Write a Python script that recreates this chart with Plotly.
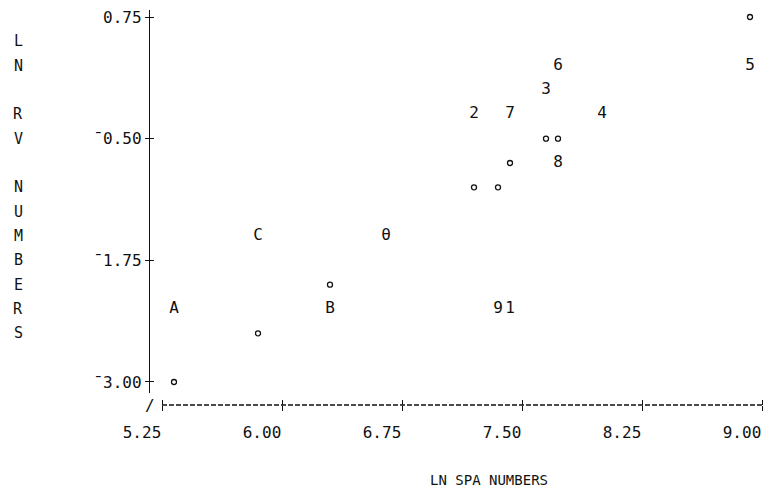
import plotly.graph_objects as go

# Labelled observations (log SPA numbers vs log RV numbers)
label_text = ["6", "5", "3", "2", "7", "4", "8", "C", "θ", "A", "B", "9", "1"]
label_x = [7.725, 8.925, 7.65, 7.20, 7.425, 8.00, 7.725, 5.85, 6.65, 5.325, 6.30, 7.35, 7.425]
label_y = [0.25, 0.25, 0.00, -0.25, -0.25, -0.25, -0.75, -1.50, -1.50, -2.25, -2.25, -2.25, -2.25]

# Unlabelled observations, plotted as small rings
dot_x = [8.925, 7.65, 7.725, 7.425, 7.20, 7.35, 6.30, 5.85, 5.325]
dot_y = [0.75, -0.50, -0.50, -0.75, -1.00, -1.00, -2.00, -2.50, -3.00]

# Axis ticks (APL high minus for negatives)
x_ticks = [5.25, 6.00, 6.75, 7.50, 8.25, 9.00]
x_ticklabels = ["5.25", "6.00", "6.75", "7.50", "8.25", "9.00"]
y_ticks = [0.75, -0.50, -1.75, -3.00]
y_ticklabels = ["0.75", "¯0.50", "¯1.75", "¯3.00"]

x_title = "LN SPA NUMBERS"
y_title = "LN RV NUMBERS"

FONT = "DejaVu Sans Mono"
INK = "#111111"
X_RANGE = [5.175, 9.0375]
Y_RANGE = [-3.113, 0.822]
ROW = 0.25  # one printer line on the vertical scale

fig = go.Figure()

fig.add_trace(go.Scatter(
    x=dot_x, y=dot_y, mode="markers",
    marker=dict(symbol="circle-open", size=5, color=INK, line=dict(width=1.3, color=INK)),
    cliponaxis=False, showlegend=False, hoverinfo="skip",
))
fig.add_trace(go.Scatter(
    x=label_x, y=label_y, mode="text", text=label_text,
    textposition="middle center",
    textfont=dict(family=FONT, size=16, color=INK),
    cliponaxis=False, showlegend=False, hoverinfo="skip",
))

# Dashed horizontal axis rule between the end ticks
fig.add_shape(type="line", xref="x", yref="paper",
              x0=x_ticks[0], x1=x_ticks[-1], y0=0, y1=0,
              line=dict(color=INK, width=1.4, dash="5px,2px"))
# Corner mark where the two axes meet
fig.add_annotation(x=X_RANGE[0], y=0, xref="x", yref="paper", text="/",
                   showarrow=False, xanchor="center", yanchor="middle",
                   font=dict(family=FONT, size=16, color=INK))

# Vertical axis title, one letter per printer line
for i, ch in enumerate(y_title):
    if ch == " ":
        continue
    fig.add_annotation(x=0, xref="paper", xshift=-132, y=y_ticks[0] - ROW * (i + 1), yref="y",
                       text=ch, showarrow=False, xanchor="center", yanchor="middle",
                       font=dict(family=FONT, size=15, color=INK))

fig.add_annotation(x=0.5, y=-0.19, xref="paper", yref="paper", xshift=30,
                   text=x_title, showarrow=False, xanchor="center", yanchor="middle",
                   font=dict(family=FONT, size=14, color=INK))

common_x = dict(range=X_RANGE, domain=[0, 1], anchor="free", position=0,
                showgrid=False, zeroline=False, showline=False,
                tickmode="array", tickvals=x_ticks, tickcolor=INK, tickwidth=1.4, ticklen=5)
fig.update_layout(
    width=768, height=489,
    margin=dict(l=150, r=0, t=10, b=84),
    paper_bgcolor="white", plot_bgcolor="white",
    font=dict(family=FONT, color=INK),
    xaxis=dict(**common_x, ticks="outside", ticktext=x_ticklabels,
               tickfont=dict(family=FONT, size=16, color=INK),
               ticklabelshift=-20, ticklabelstandoff=8),
    xaxis2=dict(**common_x, overlaying="x", ticks="inside", showticklabels=False),
    yaxis=dict(range=Y_RANGE, domain=[0.0304, 1], anchor="x", showgrid=False, zeroline=False,
               showline=True, linecolor=INK, linewidth=1.4,
               tickmode="array", tickvals=y_ticks, ticktext=y_ticklabels,
               ticks="outside", ticklen=4, tickwidth=1.4, tickcolor=INK,
               tickfont=dict(family=FONT, size=16, color=INK)),
    yaxis2=dict(range=Y_RANGE, domain=[0.0304, 1], anchor="x", overlaying="y", side="left",
                showgrid=False, zeroline=False, showline=False,
                tickmode="array", tickvals=y_ticks, showticklabels=False,
                ticks="inside", ticklen=4, tickwidth=1.4, tickcolor=INK),
)
# Invisible carriers so the overlay axes are drawn
fig.add_trace(go.Scatter(x=[None], y=[None], xaxis="x2", yaxis="y2", showlegend=False))

fig.write_html("out.html")
